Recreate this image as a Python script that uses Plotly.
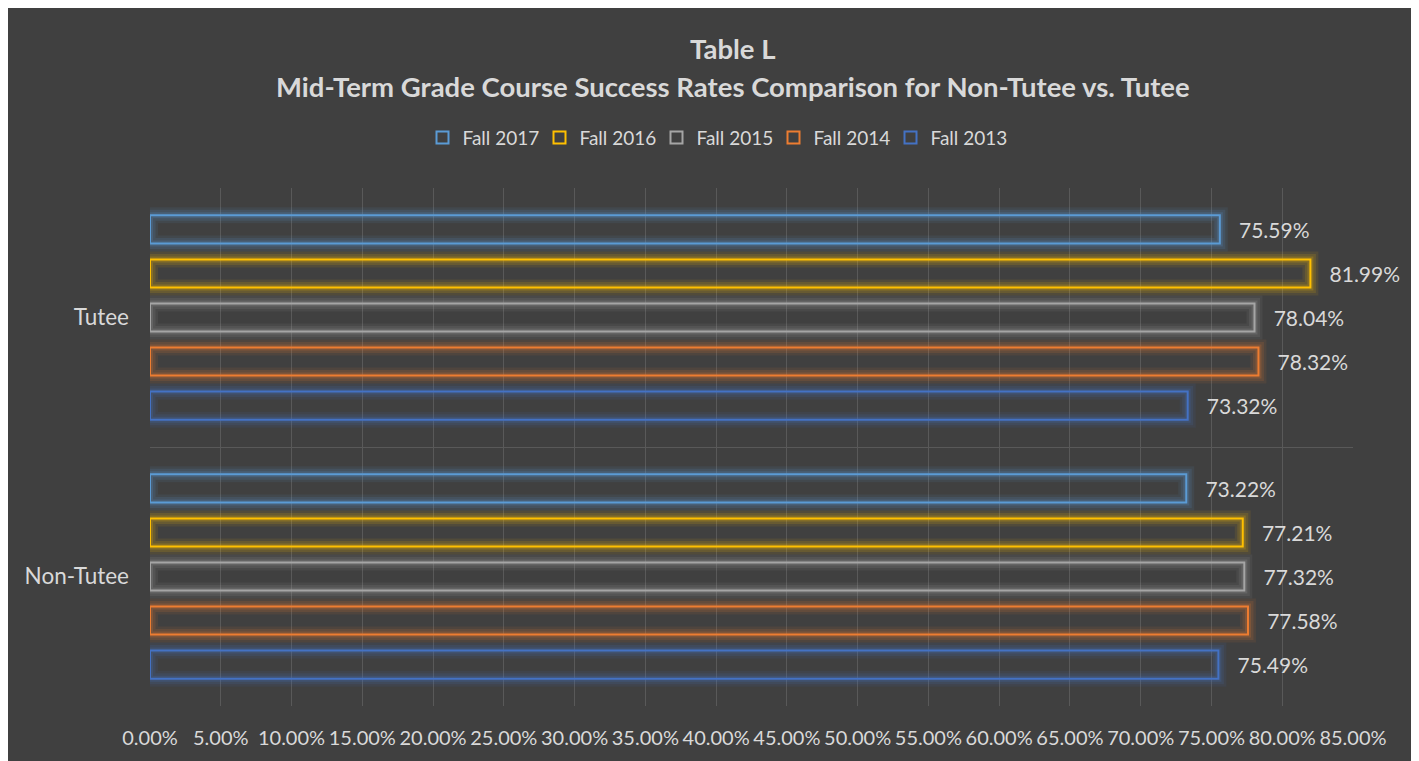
import plotly.graph_objects as go

# --- data ---
categories = ["Non-Tutee", "Tutee"]
series_names = ["Fall 2013", "Fall 2014", "Fall 2015", "Fall 2016", "Fall 2017"]
fall_2013 = [0.7549, 0.7332]
fall_2014 = [0.7758, 0.7832]
fall_2015 = [0.7732, 0.7804]
fall_2016 = [0.7721, 0.8199]
fall_2017 = [0.7322, 0.7559]
series_values = [fall_2013, fall_2014, fall_2015, fall_2016, fall_2017]
x_tick_vals = [i * 0.05 for i in range(18)]

COLORS = ["#4472C4", "#ED7D31", "#A5A5A5", "#FFC000", "#5B9BD5"]
BG = "#404040"
TEXT = "#D9D9D9"
GRID = "#595959"
FONT = "Lato"

# the page body adds an 8px margin, so the figure is laid out in its own pixel frame
OFF = 8
W, H = 1415 - OFF, 761 - OFF
L, R, T, B = 150 - OFF, 1353 - OFF, 188 - OFF, 712 - OFF   # plot area


def px_x(x):
    # x given in screenshot pixels
    return (x - OFF - L) / (R - L)


def px_y(y):
    return (B - (y - OFF)) / (B - T)


def rgba(hex_color, a):
    h = hex_color.lstrip("#")
    r, g, b = int(h[0:2], 16), int(h[2:4], 16), int(h[4:6], 16)
    return f"rgba({r},{g},{b},{a})"


fig = go.Figure()

# soft glow: stacked translucent outlines, widest first, each on its own overlaid axis
glow_layers = [("y", 16, 0.09), ("y2", 11, 0.13), ("y3", 6, 0.2)]
for axis, width, alpha in glow_layers:
    for name, vals, col in zip(series_names, series_values, COLORS):
        fig.add_trace(go.Bar(
            y=categories, x=vals, orientation="h", yaxis=axis,
            marker=dict(color="rgba(0,0,0,0)", line=dict(color=rgba(col, alpha), width=width)),
            showlegend=False, hoverinfo="skip",
        ))

# crisp outlined bars with labels
for name, vals, col in zip(series_names, series_values, COLORS):
    fig.add_trace(go.Bar(
        y=categories, x=vals, orientation="h", yaxis="y4", name=name,
        marker=dict(color="rgba(0,0,0,0)", line=dict(color=col, width=2)),
        text=[f"{v:.2%}" for v in vals],
        texttemplate="   %{text}",
        textposition="outside", constraintext="none", cliponaxis=False,
        textfont=dict(family=FONT, size=21, color=TEXT),
        hovertemplate="%{y}: %{x:.2%}<extra>" + name + "</extra>",
    ))

yaxis_common = dict(
    type="category", categoryorder="array", categoryarray=categories,
    range=[-0.5, 1.5], fixedrange=True,
)

fig.update_layout(
    width=W, height=H,
    margin=dict(l=L, r=W - R, t=T, b=H - B, pad=0),
    paper_bgcolor=BG, plot_bgcolor=BG,
    barmode="group", bargap=0.15, bargroupgap=0.36,
    font=dict(family=FONT, color=TEXT),
    xaxis=dict(
        range=[0, 0.85], tickvals=x_tick_vals, tickformat=".2%",
        showgrid=True, gridcolor=GRID, gridwidth=1, zeroline=False,
        showline=False, ticks="", ticklabelstandoff=18,
        tickfont=dict(family=FONT, size=20, color=TEXT),
    ),
    yaxis=dict(
        **yaxis_common, tickson="boundaries", showgrid=True, gridcolor=GRID,
        gridwidth=1, ticks="", ticklabelstandoff=20,
        tickfont=dict(family=FONT, size=22.5, color=TEXT),
    ),
    yaxis2=dict(**yaxis_common, overlaying="y", visible=False),
    yaxis3=dict(**yaxis_common, overlaying="y", visible=False),
    yaxis4=dict(**yaxis_common, overlaying="y", visible=False),
    legend=dict(
        orientation="h", x=px_x(715), xanchor="center", y=px_y(137), yanchor="middle",
        traceorder="reversed", entrywidth=72, entrywidthmode="pixels",
        font=dict(family=FONT, size=19, color=TEXT), bgcolor="rgba(0,0,0,0)",
    ),
    showlegend=True,
)

# two-line bold title
fig.add_annotation(text="<b>Table L</b>", xref="paper", yref="paper",
                   x=px_x(733), y=px_y(47), xanchor="center", yanchor="middle",
                   showarrow=False, font=dict(family=FONT, size=27.5, color=TEXT))
fig.add_annotation(text="<b>Mid-Term Grade Course Success Rates Comparison for Non-Tutee vs. Tutee</b>",
                   xref="paper", yref="paper", x=px_x(733), y=px_y(85),
                   xanchor="center", yanchor="middle",
                   showarrow=False, font=dict(family=FONT, size=27.5, color=TEXT))

fig.write_html("out.html")
